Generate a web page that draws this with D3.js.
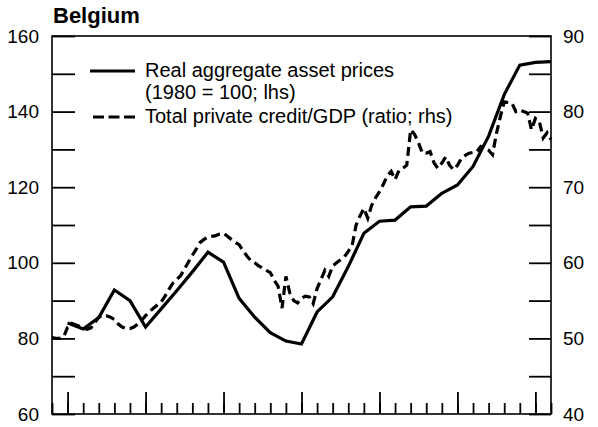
<!DOCTYPE html>
<html>
<head>
<meta charset="utf-8">
<script src="https://cdn.jsdelivr.net/npm/d3@7"></script>
<style>
  body { margin: 0; background: #fff; }
  svg { font-family: Arial, 'Liberation Sans', Helvetica, sans-serif; }
</style>
</head>
<body>
<div id="vis"></div>
<script>

var width = 598,
  height = 427

// Real aggregate asset prices, annual (1980 = 100; lhs)
var assetYears = [ 1970, 1971, 1972, 1973, 1974, 1975, 1976, 1977, 1978, 1979,
  1980, 1981, 1982, 1983, 1984, 1985, 1986, 1987, 1988, 1989,
  1990, 1991, 1992, 1993, 1994, 1995, 1996, 1997, 1998, 1999, 2000, 2001 ];

var assetPrices = [ 84.1, 82.5, 85.5, 92.8, 90.0, 83.0, 87.8, 92.6, 97.6, 102.8,
  100.2, 90.6, 85.6, 81.5, 79.3, 78.5, 87.0, 91.0, 99.0, 107.8,
  111.0, 111.3, 114.8, 115.0, 118.4, 120.6, 125.5, 133.5, 144.5, 152.3, 153.0, 153.2 ];

// Total private credit/GDP, quarterly from 1969 Q1 (ratio; rhs)
var creditStart = 1969;
var creditRatio = [
  50.1, 50.0, 50.0, 50.2,   // 1969
  51.5, 52.0, 51.8, 51.6,   // 1970
  51.4, 51.2, 51.4, 52.1,   // 1971
  52.8, 53.1, 53.0, 52.8,   // 1972
  52.5, 51.9, 51.5, 51.3,   // 1973
  51.3, 51.5, 51.9, 52.4,   // 1974
  53.0, 53.5, 54.0, 54.4,   // 1975
  54.8, 55.6, 56.5, 57.3,   // 1976
  57.8, 58.3, 59.2, 60.1,   // 1977
  61.0, 61.8, 62.7, 63.1,   // 1978
  63.4, 63.5, 63.6, 63.8,   // 1979
  63.9, 63.5, 63.1, 62.7,   // 1980
  62.4, 61.6, 60.9, 60.3,   // 1981
  60.0, 59.6, 59.3, 59.0,   // 1982
  58.7, 57.7, 56.9, 54.0,   // 1983
  58.2, 56.0, 55.0, 54.7,   // 1984
  55.3, 55.6, 55.5, 54.6,   // 1985
  56.6, 57.8, 59.0, 58.2,   // 1986
  59.6, 60.0, 60.4, 60.8,   // 1987
  61.5, 62.3, 65.0, 66.2,   // 1988
  67.2, 65.9, 67.6, 68.6,   // 1989
  69.4, 70.4, 71.5, 72.1,   // 1990
  71.0, 72.2, 72.5, 72.9,   // 1991
  77.6, 77.0, 75.9, 74.5,   // 1992
  74.5, 74.7, 73.2, 72.5,   // 1993
  73.2, 74.0, 72.9, 72.3,   // 1994
  72.9, 73.8, 74.2, 74.5,   // 1995
  74.6, 74.7, 75.4, 75.2,   // 1996
  74.9, 74.3, 77.1, 79.3,   // 1997
  81.3, 81.2, 81.1, 80.0,   // 1998
  80.2, 80.0, 79.8, 77.6,   // 1999
  79.1, 78.7, 76.5, 77.2,   // 2000
  76.3                      // 2001
];

var leftTicks = [ 60, 70, 80, 90, 100, 110, 120, 130, 140, 150, 160 ],
  leftLabels = [ 60, 80, 100, 120, 140, 160 ];
var rightTicks = [ 40, 45, 50, 55, 60, 65, 70, 75, 80, 85, 90 ],
  rightLabels = [ 40, 50, 60, 70, 80, 90 ];
var minorYears = d3.range( 1969, 2002 ),
  majorYears = [ 1970, 1975, 1980, 1985, 1990, 1995, 2000 ];

var legendItems = [
  { lines: [ 'Real aggregate asset prices', '(1980 = 100; lhs)' ], dash: null },
  { lines: [ 'Total private credit/GDP (ratio; rhs)' ], dash: '11,4.5' }
];

var plot = { left: 52, right: 551, top: 36, bottom: 414 };

/* Scales */

var x = d3.scaleLinear()
  .domain( [ 1969, 2001 ] )
  .range( [ plot.left, plot.right ] );

var yLeft = d3.scaleLinear()
  .domain( [ 60, 160 ] )
  .range( [ plot.bottom, plot.top ] );

var yRight = d3.scaleLinear()
  .domain( [ 40, 90 ] )
  .range( [ plot.bottom, plot.top ] );

/* Drawing */

var svg = d3.select( '#vis' ).append( 'svg' )
  .attr( 'width', width )
  .attr( 'height', height );

svg.append( 'text' )
  .attr( 'x', 53 )
  .attr( 'y', 23 )
  .style( 'font-size', '22px' )
  .style( 'font-weight', 'bold' )
  .text( 'Belgium' );

// Axes

function styleAxis( g ) {
  g.select( '.domain' ).remove();
  g.selectAll( '.tick line' ).attr( 'stroke', '#000' ).attr( 'stroke-width', 1.8 );
  g.selectAll( '.tick text' ).attr( 'fill', '#000' ).style( 'font-size', '19px' );
}

svg.append( 'g' )
  .attr( 'transform', 'translate(' + plot.left + ',0)' )
  .call( d3.axisLeft( yLeft )
    .tickValues( leftTicks )
    .tickSize( -23 )
    .tickPadding( 13 )
    .tickFormat( d => leftLabels.includes( d ) ? d : '' ) )
  .call( styleAxis );

svg.append( 'g' )
  .attr( 'transform', 'translate(' + plot.right + ',0)' )
  .call( d3.axisRight( yRight )
    .tickValues( rightTicks )
    .tickSize( -22 )
    .tickPadding( 12 )
    .tickFormat( d => rightLabels.includes( d ) ? d : '' ) )
  .call( styleAxis );

svg.append( 'g' )
  .attr( 'transform', 'translate(0,' + plot.bottom + ')' )
  .call( d3.axisBottom( x )
    .tickValues( minorYears )
    .tickSize( -11 )
    .tickFormat( '' ) )
  .call( styleAxis );

svg.append( 'g' )
  .attr( 'transform', 'translate(0,' + plot.bottom + ')' )
  .call( d3.axisBottom( x )
    .tickValues( majorYears )
    .tickSize( -22 )
    .tickFormat( '' ) )
  .call( styleAxis );

svg.append( 'rect' )
  .attr( 'x', plot.left )
  .attr( 'y', plot.top )
  .attr( 'width', plot.right - plot.left )
  .attr( 'height', plot.bottom - plot.top )
  .attr( 'fill', 'none' )
  .attr( 'stroke', '#000' )
  .attr( 'stroke-width', 1.6 );

// Lines

var creditLine = d3.line()
  .x( ( d, i ) => x( creditStart + i / 4 ) )
  .y( d => yRight( d ) );

var assetLine = d3.line()
  .x( ( d, i ) => x( assetYears[ i ] ) )
  .y( d => yLeft( d ) );

svg.append( 'path' )
  .datum( creditRatio )
    .attr( 'd', creditLine )
    .attr( 'fill', 'none' )
    .attr( 'stroke', '#000' )
    .attr( 'stroke-width', 3.2 )
    .attr( 'stroke-dasharray', '9,5' );

svg.append( 'path' )
  .datum( assetPrices )
    .attr( 'd', assetLine )
    .attr( 'fill', 'none' )
    .attr( 'stroke', '#000' )
    .attr( 'stroke-width', 3.2 )
    .attr( 'stroke-linejoin', 'miter' );

// Legend

var legendY = [ 71, 117 ];

legendItems.forEach( ( item, k ) => {
  svg.append( 'line' )
    .attr( 'x1', item.dash ? 93 : 90 )
    .attr( 'x2', 135 )
    .attr( 'y1', legendY[ k ] )
    .attr( 'y2', legendY[ k ] )
    .attr( 'stroke', '#000' )
    .attr( 'stroke-width', 3.2 )
    .attr( 'stroke-dasharray', item.dash );

  item.lines.forEach( ( t, j ) => {
    svg.append( 'text' )
      .attr( 'x', 145 )
      .attr( 'y', legendY[ k ] + 6 + j * 22 )
      .style( 'font-size', '20px' )
      .text( t );
  } );
} );

</script>
</body>
</html>
